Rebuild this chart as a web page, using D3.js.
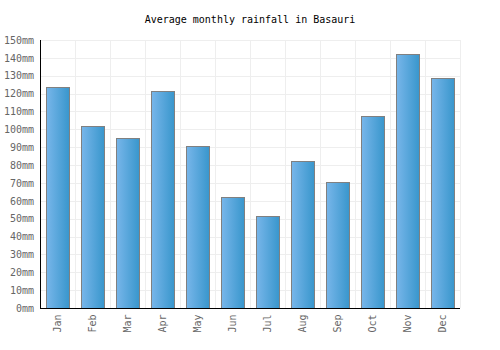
<!DOCTYPE html>
<html>
<head>
<meta charset="utf-8">
<script src="https://cdn.jsdelivr.net/npm/d3@7"></script>
<style>
  body { margin: 0; background: #fff; }
  text { font-family: "DejaVu Sans Mono", monospace; }
</style>
</head>
<body>
<div id="chart"></div>
<script>
const months = ["Jan", "Feb", "Mar", "Apr", "May", "Jun", "Jul", "Aug", "Sep", "Oct", "Nov", "Dec"];
const rainfall = [123.5, 102, 95, 121.3, 90.5, 62.4, 51.5, 82, 70.8, 107.2, 142, 129];
const yTicks = [0, 10, 20, 30, 40, 50, 60, 70, 80, 90, 100, 110, 120, 130, 140, 150];

const margin = {top: 40, right: 40, bottom: 42, left: 40};
const width = 500 - margin.left - margin.right;
const height = 350 - margin.top - margin.bottom;

const svg = d3.select("#chart").append("svg")
  .attr("width", 500)
  .attr("height", 350);

const defs = svg.append("defs");
const grad = defs.append("linearGradient")
  .attr("id", "barGrad")
  .attr("x1", "0%").attr("x2", "100%").attr("y1", "0%").attr("y2", "0%");
grad.append("stop").attr("offset", "0%").attr("stop-color", "#78b6ea");
grad.append("stop").attr("offset", "100%").attr("stop-color", "#3896cc");

svg.append("text")
  .attr("x", 250)
  .attr("y", 23)
  .attr("text-anchor", "middle")
  .style("font-size", "10px")
  .style("fill", "#000")
  .text("Average monthly rainfall in Basauri");

const plot = svg.append("g")
  .attr("transform", "translate(" + margin.left + "," + margin.top + ")");

const x = d3.scaleBand()
  .domain(months)
  .range([0, width])
  .paddingInner(0.34)
  .paddingOuter(0.17);

const y = d3.scaleLinear()
  .domain([0, 150])
  .range([height, 0]);

// grid
plot.append("g")
  .selectAll("line")
  .data(yTicks)
  .join("line")
  .attr("x1", 0).attr("x2", width)
  .attr("y1", d => Math.round(y(d)) + 0.5)
  .attr("y2", d => Math.round(y(d)) + 0.5)
  .attr("stroke", "#eeeeee");

const step = width / months.length;
plot.append("g")
  .selectAll("line")
  .data(d3.range(months.length + 1))
  .join("line")
  .attr("x1", d => Math.round(d * step) + 0.5)
  .attr("x2", d => Math.round(d * step) + 0.5)
  .attr("y1", 0).attr("y2", height)
  .attr("stroke", "#eeeeee");

// bars
plot.selectAll(".bar")
  .data(rainfall)
  .join("rect")
  .attr("class", "bar")
  .attr("x", (d, i) => Math.round(x(months[i])) + 0.5)
  .attr("y", d => Math.round(y(d)) + 0.5)
  .attr("width", Math.round(x.bandwidth()))
  .attr("height", d => height - Math.round(y(d)))
  .attr("fill", "url(#barGrad)")
  .attr("stroke", "#808080")
  .attr("stroke-width", 1);

// y axis
const yAxis = d3.axisLeft(y)
  .tickValues(yTicks)
  .tickSize(0)
  .tickPadding(6)
  .tickFormat(d => d + "mm");

const gy = plot.append("g").call(yAxis);
gy.select(".domain").attr("stroke", "#000").attr("d", "M0.5,0V" + (height + 0.5));
gy.selectAll("text").style("font-size", "10px").style("fill", "#666").style("font-family", "DejaVu Sans Mono, monospace");

// x axis
const xAxis = d3.axisBottom(x).tickSize(0).tickPadding(6);
const gx = plot.append("g")
  .attr("transform", "translate(0," + (height + 0.5) + ")")
  .call(xAxis);
gx.select(".domain").attr("stroke", "#000").attr("d", "M0,0H" + width);
gx.selectAll("text")
  .style("font-size", "10px")
  .style("fill", "#666")
  .style("font-family", "DejaVu Sans Mono, monospace")
  .attr("text-anchor", "end")
  .attr("transform", "rotate(-90)")
  .attr("x", -6)
  .attr("y", 0)
  .attr("dy", "0.35em");
</script>
</body>
</html>
